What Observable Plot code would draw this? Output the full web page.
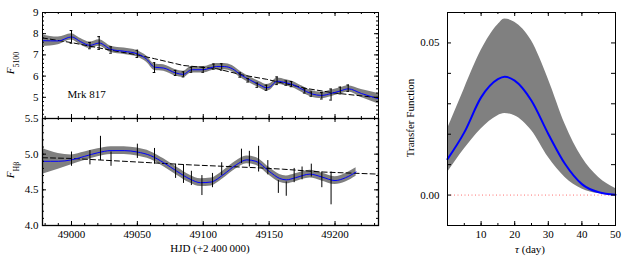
<!DOCTYPE html>
<html><head><meta charset="utf-8">
<script src="https://cdn.jsdelivr.net/npm/d3@7"></script>
<script src="https://cdn.jsdelivr.net/npm/@observablehq/plot@0.6"></script>
<style>
body{margin:0;background:#fff;}
#wrap{position:relative;width:623px;height:262px;overflow:hidden;background:#fff;}
#wrap svg{position:absolute;}
</style></head><body><div id="wrap"></div>
<script>
// ---------- data: continuum (F5100) ----------
const contDays = [49000,49014,49021,49030,49050,49063,49079,49085,49091,49100,49108,49114,49128,49134,49141,49148,49156,49163,49167,49177,49182,49190,49197,49204,49210];
const contVals = [7.85,7.44,7.56,7.23,7.05,6.40,6.15,6.08,6.30,6.30,6.45,6.43,6.05,5.80,5.57,5.45,5.78,5.67,5.62,5.30,5.15,5.07,5.13,5.32,5.43];
const contErrs = [0.30,0.15,0.30,0.15,0.17,0.23,0.12,0.12,0.12,0.12,0.12,0.15,0.10,0.08,0.10,0.12,0.18,0.10,0.12,0.10,0.10,0.15,0.26,0.16,0.15];
const contModelDays = [48978,48990,49000,49007,49014,49021,49030,49040,49050,49057,49063,49070,49079,49085,49091,49100,49110,49116,49122,49128,49136,49143,49148,49151,49156,49163,49168,49175,49182,49190,49197,49204,49210,49220,49233];
const contModelVals = [7.67,7.66,7.85,7.62,7.45,7.56,7.26,7.17,7.05,6.80,6.42,6.38,6.15,6.08,6.30,6.30,6.45,6.45,6.35,6.08,5.80,5.58,5.45,5.50,5.76,5.68,5.60,5.38,5.17,5.09,5.18,5.30,5.40,5.18,4.93];
const contBand = [0.27,0.18,0.15,0.15,0.15,0.15,0.15,0.15,0.15,0.15,0.15,0.15,0.15,0.15,0.15,0.15,0.15,0.15,0.15,0.15,0.15,0.15,0.15,0.15,0.15,0.15,0.15,0.15,0.15,0.15,0.15,0.15,0.15,0.19,0.25];
const contTrendDays = [48978,49000,49030,49050,49063,49085,49110,49130,49148,49178,49200,49233];
const contTrendVals = [7.80,7.58,7.22,7.00,6.82,6.50,6.35,6.05,5.85,5.42,5.20,4.98];

// ---------- data: H-beta ----------
const hbDays = [49000,49014,49022,49030,49050,49063,49079,49085,49091,49099,49107,49114,49129,49135,49142,49149,49157,49163,49169,49175,49182,49190,49197];
const hbVals = [4.93,4.95,5.08,4.93,5.04,4.97,4.76,4.72,4.66,4.56,4.63,4.79,4.97,4.93,4.93,4.81,4.54,4.51,4.70,4.73,4.77,4.64,4.52];
const hbErrs = [0.10,0.10,0.17,0.10,0.10,0.11,0.10,0.13,0.10,0.14,0.10,0.09,0.10,0.11,0.18,0.10,0.09,0.10,0.10,0.09,0.09,0.11,0.23];
const hbModelDays = [48978,48990,49000,49010,49020,49030,49040,49050,49060,49070,49080,49090,49098,49106,49115,49125,49133,49140,49150,49158,49163,49170,49181,49190,49200,49208,49216];
const hbModelVals = [4.90,4.90,4.92,4.97,5.02,5.05,5.05,5.03,4.98,4.88,4.76,4.65,4.60,4.61,4.71,4.85,4.92,4.90,4.76,4.66,4.64,4.67,4.72,4.68,4.63,4.67,4.75];
const hbBand = [0.18,0.11,0.07,0.06,0.055,0.055,0.055,0.055,0.055,0.055,0.055,0.055,0.055,0.055,0.055,0.055,0.055,0.055,0.055,0.055,0.055,0.055,0.055,0.055,0.055,0.06,0.06];
const hbTrendDays = [48978,49000,49030,49060,49090,49140,49160,49190,49233];
const hbTrendVals = [4.95,4.94,4.91,4.88,4.85,4.81,4.79,4.75,4.72];

// ---------- data: transfer function ----------
const tau = [0,5,10,15,17,20,25,30,35,40,45,50];
const tfMid = [0.0118,0.0206,0.0321,0.0381,0.0389,0.0376,0.0310,0.0201,0.0102,0.0036,0.0009,0.0001];
const tfHi  = [0.0217,0.0349,0.0475,0.0560,0.0579,0.0568,0.0507,0.0381,0.0233,0.0124,0.0058,0.0022];
const tfLo  = [0.0074,0.0151,0.0217,0.0261,0.0268,0.0261,0.0212,0.0124,0.0058,0.0020,0.0005,0.0001];

// ---------- tick values ----------
const hjdMajor = [49000,49050,49100,49150,49200];
const hjdMinor = d3.range(48980,49235,10);
const contYMajor = [5,6,7,8,9];
const contYMinor = d3.range(4,9.01,0.2);
const hbYMajor = [4.0,4.5,5.0,5.5];
const hbYMinor = d3.range(4,5.51,0.1);
const tauMajor = [10,20,30,40,50];
const tauMinor = d3.range(0,50.1,5);
const tfYTicks = d3.range(-0.01,0.0601,0.01);
const tfYLabels = [0.00,0.05];

const FONT = "'Liberation Serif', 'DejaVu Serif', serif";
const GRAY = "#808080";
const BLUE = "#0000ff";

function rows(days, vals, extra) {
  return days.map((d, i) => ({d, v: vals[i], e: extra ? extra[i] : 0}));
}

function tickMarks(xs, ys, len, W, H) {
  return [
    Plot.tickX(xs, {x: d => d, insetTop: H - len, stroke: "black"}),
    Plot.tickX(xs, {x: d => d, insetBottom: H - len, stroke: "black"}),
    Plot.tickY(ys, {y: d => d, insetRight: W - len, stroke: "black"}),
    Plot.tickY(ys, {y: d => d, insetLeft: W - len, stroke: "black"})
  ];
}

function place(svg, left, topPx) {
  svg.style.left = left + "px";
  svg.style.top = topPx + "px";
  document.getElementById("wrap").appendChild(svg);
  return svg;
}

function addLabel(svg, x, y, rotate, parts, size = 11) {
  const t = d3.select(svg).append("text")
    .attr("transform", `translate(${x},${y}) rotate(${rotate})`)
    .attr("text-anchor", "middle")
    .attr("font-family", FONT)
    .attr("font-size", size)
    .attr("fill", "black");
  for (const p of parts) {
    const s = t.append("tspan").text(p.t);
    if (p.italic) s.attr("font-style", "italic");
    if (p.sub) s.attr("baseline-shift", "sub").attr("font-size", size * 0.72);
  }
}

const xDom = [48978, 49233];
const LW = 336;
const STYLE = {fontFamily: FONT, fontSize: "11px", background: "transparent", overflow: "visible", color: "black"};

// ---------- top panel ----------
const contModel = contModelDays.map((d, i) => ({d, v: contModelVals[i], lo: contModelVals[i] - contBand[i], hi: contModelVals[i] + contBand[i]}));
const contObs = rows(contDays, contVals, contErrs);
const contTrend = rows(contTrendDays, contTrendVals);

const topPlot = Plot.plot({
  width: 390, height: 119,
  marginLeft: 42, marginRight: 12, marginTop: 12, marginBottom: 1,
  style: STYLE,
  x: {domain: xDom, axis: null},
  y: {domain: [4, 9], axis: null},
  marks: [
    Plot.areaY(contModel, {x: "d", y1: "lo", y2: "hi", fill: GRAY, curve: "monotone-x"}),
    Plot.line(contTrend, {x: "d", y: "v", stroke: "black", strokeWidth: 1, strokeDasharray: "5,3"}),
    Plot.line(contModel, {x: "d", y: "v", stroke: BLUE, strokeWidth: 1, curve: "monotone-x"}),
    Plot.ruleX(contObs, {x: "d", y1: r => r.v - r.e, y2: r => r.v + r.e, stroke: "black", strokeWidth: 1}),
    Plot.ruleY(contObs, {y: r => r.v - r.e, x1: r => r.d - 1, x2: r => r.d + 1, stroke: "black"}),
    Plot.ruleY(contObs, {y: r => r.v + r.e, x1: r => r.d - 1, x2: r => r.d + 1, stroke: "black"}),
    Plot.text(["Mrk 817"], {frameAnchor: "bottom-left", dx: 25, dy: -21, textAnchor: "start", fontSize: 11, fill: "black"}),
    ...tickMarks(hjdMajor, contYMajor, 4, LW, 106),
    ...tickMarks(hjdMinor, contYMinor, 2, LW, 106),
    Plot.axisY({ticks: contYMajor, tickSize: 0, tickPadding: 4, tickFormat: d3.format("d"), label: null, fontSize: 11}),
    Plot.frame({stroke: "black", strokeWidth: 1})
  ]
});
place(topPlot, 0, 0);
addLabel(topPlot, 14, 63, -90, [{t: "F", italic: true}, {t: "5100", sub: true}]);

// ---------- bottom panel ----------
const hbModel = hbModelDays.map((d, i) => ({d, v: hbModelVals[i], lo: hbModelVals[i] - hbBand[i], hi: hbModelVals[i] + hbBand[i]}));
const hbObs = rows(hbDays, hbVals, hbErrs);
const hbTrend = rows(hbTrendDays, hbTrendVals);

const botPlot = Plot.plot({
  width: 390, height: 145,
  marginLeft: 42, marginRight: 12, marginTop: 1, marginBottom: 37,
  style: STYLE,
  x: {domain: xDom, axis: null},
  y: {domain: [4, 5.5], axis: null},
  marks: [
    Plot.areaY(hbModel, {x: "d", y1: "lo", y2: "hi", fill: GRAY, curve: "monotone-x"}),
    Plot.line(hbTrend, {x: "d", y: "v", stroke: "black", strokeWidth: 1, strokeDasharray: "5,3"}),
    Plot.line(hbModel, {x: "d", y: "v", stroke: BLUE, strokeWidth: 1, curve: "monotone-x"}),
    Plot.ruleX(hbObs, {x: "d", y1: r => r.v - r.e, y2: r => r.v + r.e, stroke: "black", strokeWidth: 1}),
    ...tickMarks(hjdMajor, hbYMajor, 4, LW, 107),
    ...tickMarks(hjdMinor, hbYMinor, 2, LW, 107),
    Plot.axisY({ticks: hbYMajor, tickSize: 0, tickPadding: 4, tickFormat: d3.format(".1f"), label: null, fontSize: 11}),
    Plot.axisX({ticks: hjdMajor, tickSize: 0, tickPadding: 5, tickFormat: d3.format("d"), label: null, fontSize: 11}),
    Plot.frame({stroke: "black", strokeWidth: 1.3})
  ]
});
place(botPlot, 0, 117);
addLabel(botPlot, 14, 53, -90, [{t: "F", italic: true}, {t: "H\u03B2", sub: true}]);
addLabel(botPlot, 210, 135, 0, [{t: "HJD (+2\u2009400\u2009000)"}]);

// ---------- right panel ----------
const tf = tau.map((t, i) => ({t, v: tfMid[i], lo: tfLo[i], hi: tfHi[i]}));
const RW = 168, RH = 213;
const rightPlot = Plot.plot({
  width: 243, height: 262,
  marginLeft: 67, marginRight: 8, marginTop: 12, marginBottom: 37,
  style: STYLE,
  x: {domain: [0, 50], axis: null},
  y: {domain: [-0.01, 0.06], axis: null},
  marks: [
    Plot.areaY(tf, {x: "t", y1: "lo", y2: "hi", fill: GRAY, curve: "monotone-x"}),
    Plot.ruleY([0], {stroke: "#ff7070", strokeWidth: 1, strokeDasharray: "1,2.5"}),
    Plot.line(tf, {x: "t", y: "v", stroke: BLUE, strokeWidth: 2, curve: "monotone-x"}),
    ...tickMarks(tauMajor, tfYTicks, 4, RW, RH),
    ...tickMarks(tauMinor, [], 2, RW, RH),
    Plot.axisY({ticks: tfYLabels, tickSize: 0, tickPadding: 8, tickFormat: d3.format(".2f"), label: null, fontSize: 11}),
    Plot.axisX({ticks: tauMajor, tickSize: 0, tickPadding: 5, tickFormat: d3.format("d"), label: null, fontSize: 11}),
    Plot.frame({stroke: "black", strokeWidth: 1})
  ]
});
place(rightPlot, 380, 0);
addLabel(rightPlot, 34, 118, -90, [{t: "Transfer Function"}]);
addLabel(rightPlot, 150, 253, 0, [{t: "\u03C4", italic: true}, {t: " (day)"}]);
</script>
</body></html>
